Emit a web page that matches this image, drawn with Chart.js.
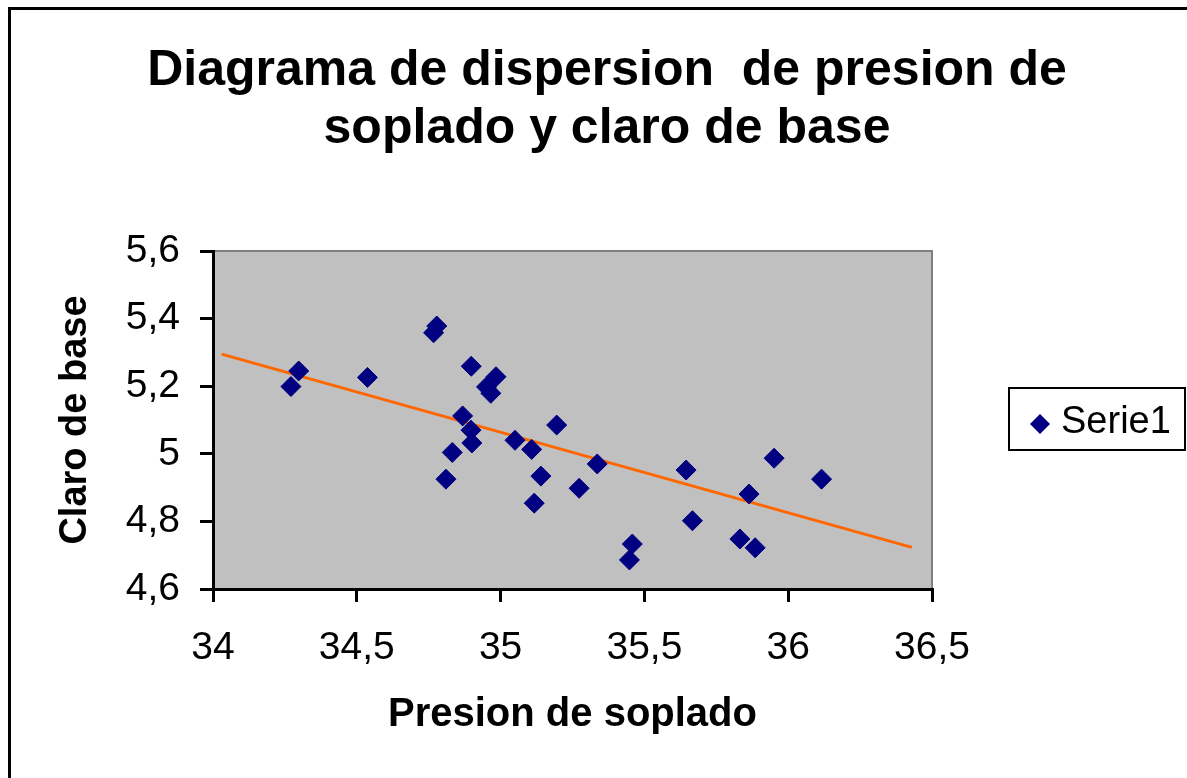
<!DOCTYPE html>
<html>
<head>
<meta charset="utf-8">
<script src="https://cdn.jsdelivr.net/npm/chart.js@4/dist/chart.umd.min.js"></script>
<style>
  html, body { margin: 0; padding: 0; background: #ffffff; }
  #wrap { width: 1187px; height: 778px; }
</style>
</head>
<body>
<div id="wrap"><canvas id="c" width="1187" height="778"></canvas></div>
<script>
const titleLines = ['Diagrama de dispersion  de presion de', 'soplado y claro de base'];
const xTitle = 'Presion de soplado';
const yTitle = 'Claro de base';
const seriesName = 'Serie1';

const presion = [34.271, 34.298, 34.537, 34.767, 34.778, 34.898, 34.868, 34.897, 34.900, 34.832,
                 34.810, 34.951, 34.984, 34.966, 35.050, 35.108, 35.195, 35.140, 35.117, 35.336,
                 35.273, 35.458, 35.448, 35.645, 35.667, 35.832, 35.885, 35.864, 35.951, 36.116];
const claro   = [5.199, 5.245, 5.226, 5.358, 5.378, 5.259, 5.112, 5.070, 5.032, 5.004,
                 4.925, 5.198, 5.228, 5.179, 5.040, 5.013, 5.085, 4.934, 4.854, 4.970,
                 4.898, 4.733, 4.686, 4.952, 4.802, 4.748, 4.722, 4.881, 4.987, 4.925];

const trendX = [34.03, 36.43];
const trendY = [5.295, 4.723];

const xMin = 34, xMax = 36.5, xStep = 0.5;
const yMin = 4.6, yMax = 5.6, yStep = 0.2;

const FONT = "'Liberation Sans', Arial, Helvetica, sans-serif";
const fmt = v => String(Math.round(v * 10) / 10).replace('.', ',');

const decor = {
  id: 'decor',
  beforeDraw(chart) {
    const ctx = chart.ctx, a = chart.chartArea;
    ctx.save();
    ctx.fillStyle = '#ffffff';
    ctx.fillRect(0, 0, chart.width, chart.height);
    ctx.strokeStyle = '#000000';
    ctx.lineWidth = 3;
    ctx.strokeRect(9.5, 8.5, 1400, 1000);
    ctx.fillStyle = '#C0C0C0';
    ctx.fillRect(a.left, a.top, a.right - a.left, a.bottom - a.top);
    ctx.strokeStyle = '#808080';
    ctx.lineWidth = 2;
    ctx.strokeRect(a.left, a.top, a.right - a.left, a.bottom - a.top);
    ctx.restore();
  },
  afterDraw(chart) {
    const ctx = chart.ctx;
    ctx.save();
    ctx.fillStyle = '#000000';
    ctx.textAlign = 'center';
    ctx.textBaseline = 'middle';
    ctx.font = 'bold 50px ' + FONT;
    ctx.fillText(titleLines[0], 607, 71);
    ctx.fillText(titleLines[1], 607, 129);
    // legend
    ctx.strokeStyle = '#000000';
    ctx.lineWidth = 2;
    ctx.strokeRect(1009, 388, 176, 62);
    ctx.fillStyle = '#000080';
    ctx.beginPath();
    ctx.moveTo(1040 - 10, 424);
    ctx.lineTo(1040, 424 - 10);
    ctx.lineTo(1040 + 10, 424);
    ctx.lineTo(1040, 424 + 10);
    ctx.closePath();
    ctx.fill();
    ctx.fillStyle = '#000000';
    ctx.textAlign = 'left';
    ctx.font = '38px ' + FONT;
    ctx.fillText(seriesName, 1061, 423);
    ctx.restore();
  }
};

const points = presion.map((x, i) => ({ x: x, y: claro[i] }));
const trend = trendX.map((x, i) => ({ x: x, y: trendY[i] }));

new Chart(document.getElementById('c'), {
  type: 'scatter',
  data: {
    datasets: [
      {
        label: 'Tendencia',
        type: 'line',
        data: trend,
        borderColor: '#FF6600',
        borderWidth: 3,
        pointRadius: 0,
        fill: false,
        order: 2
      },
      {
        label: seriesName,
        data: points,
        pointStyle: 'rectRot',
        pointRadius: 10,
        pointHoverRadius: 10,
        backgroundColor: '#000080',
        borderColor: '#000080',
        borderWidth: 1,
        order: 1
      }
    ]
  },
  options: {
    responsive: false,
    animation: false,
    devicePixelRatio: 1,
    layout: { padding: { left: 0, top: 251, right: 255, bottom: 0 } },
    plugins: {
      legend: { display: false },
      title: { display: false },
      tooltip: { enabled: false }
    },
    scales: {
      x: {
        type: 'linear',
        min: xMin, max: xMax,
        afterFit(s) { s.height = 189; },
        ticks: {
          stepSize: xStep,
          callback: v => fmt(v),
          font: { family: FONT, size: 39 },
          color: '#000000',
          padding: 23,
          maxRotation: 0
        },
        grid: { drawOnChartArea: false, drawTicks: true, tickLength: 13, color: '#000000', lineWidth: 3 },
        border: { display: true, color: '#000000', width: 3 },
        title: {
          display: true,
          text: xTitle,
          font: { family: FONT, size: 40, weight: 'bold' },
          color: '#000000',
          padding: { top: 0, bottom: 39 }
        }
      },
      y: {
        type: 'linear',
        min: yMin, max: yMax,
        afterFit(s) { s.width = 213; },
        ticks: {
          stepSize: yStep,
          callback: v => fmt(v),
          font: { family: FONT, size: 39 },
          color: '#000000',
          padding: 20
        },
        grid: { drawOnChartArea: false, drawTicks: true, tickLength: 13, color: '#000000', lineWidth: 3 },
        border: { display: true, color: '#000000', width: 3 },
        title: {
          display: true,
          text: yTitle,
          font: { family: FONT, size: 38, weight: 'bold' },
          color: '#000000',
          padding: { top: 53, bottom: 0 }
        }
      }
    }
  },
  plugins: [decor]
});
</script>
</body>
</html>
